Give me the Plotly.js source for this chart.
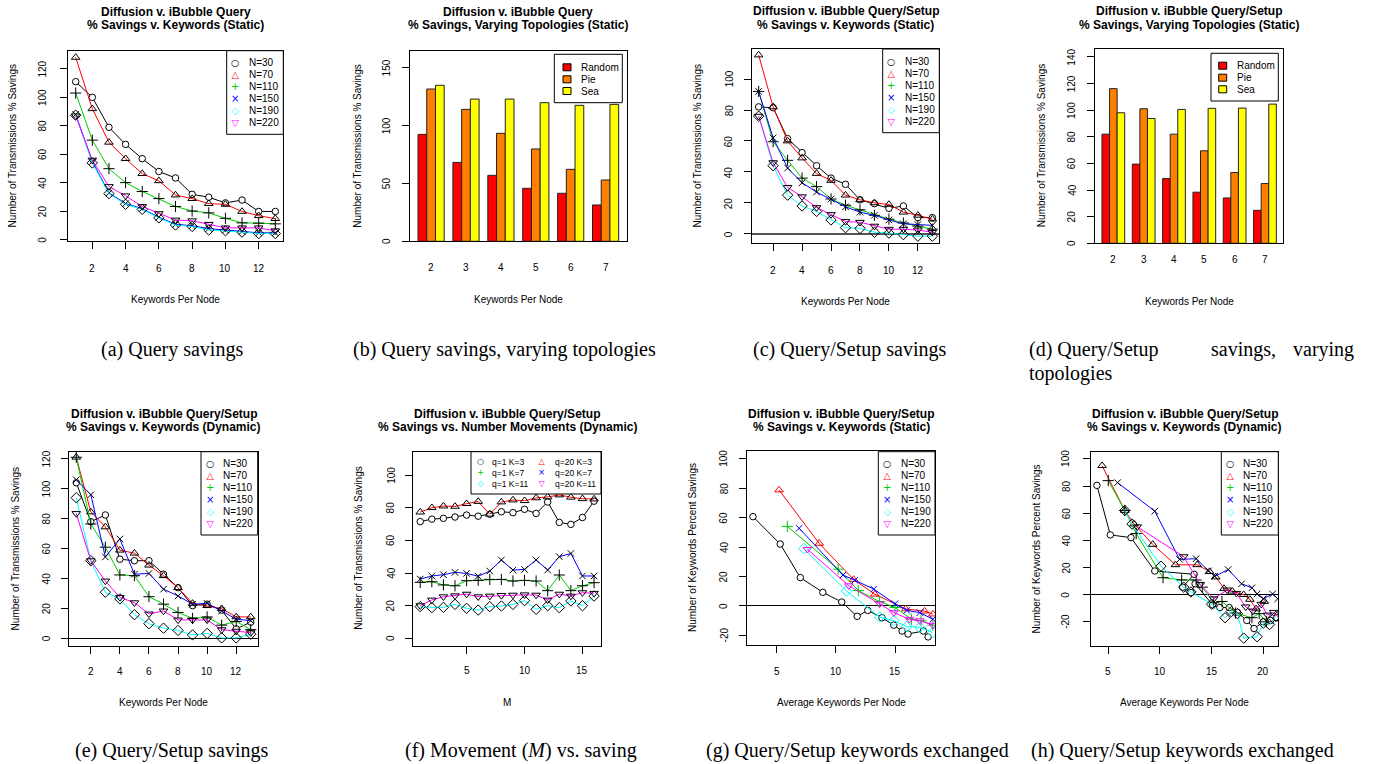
<!DOCTYPE html>
<html><head><meta charset="utf-8">
<script src="https://cdn.plot.ly/plotly-3.0.1.min.js"></script>
<style>html,body{margin:0;padding:0;background:#fff}#chart{width:1375px;height:764px}</style>
</head><body><div id="chart"></div>
<script>
// ================= DATA =================
const seriesNames = ['N=30','N=70','N=110','N=150','N=190','N=220'];
const keywordsPerNode = [1,2,3,4,5,6,7,8,9,10,11,12,13];

// (a) Query savings, static
const a_N30  = [111, 100, 79, 67, 57, 48, 43.5, 32, 30, 26, 28, 20, 20];
const a_N70  = [128, 92, 68.5, 57, 46.5, 41.5, 31.5, 29, 25.5, 25, 20, 17, 15];
const a_N110 = [103, 70, 50, 40.2, 34, 29, 23.5, 20.3, 19, 15.2, 12, 11.8, 11.3];
const a_N150 = [88, 55, 33, 25.5, 22, 16, 11, 10, 8, 7, 6, 5, 5];
const a_N190 = [87.5, 54, 32.5, 25, 21.5, 15.5, 10.5, 9.5, 7, 6.5, 5.5, 4.5, 4.5];
const a_N220 = [87, 56, 37.5, 31, 23.5, 18.5, 14, 13.5, 11, 8.5, 8.5, 8.5, 6.5];

// (b),(d) topologies
const topoKeywords = [2,3,4,5,6,7];
const topoNames = ['Random','Pie','Sea'];
const b_Random = [92.4, 68.2, 57.0, 45.8, 41.5, 31.4];
const b_Pie    = [131.6, 114.0, 93.3, 79.8, 62.2, 53.0];
const b_Sea    = [134.8, 122.9, 122.9, 119.8, 117.5, 118.3];
const d_Random = [82.0, 59.5, 48.7, 38.4, 34.1, 24.8];
const d_Pie    = [116.2, 101.1, 82.0, 69.5, 53.2, 44.9];
const d_Sea    = [98.1, 93.8, 100.6, 101.4, 101.6, 104.6];

// (c) Query/Setup savings, static
const c_N30  = [82, 81.5, 61.5, 52.5, 44, 36, 32, 22, 19.5, 16.5, 18, 10.5, 10.5];
const c_N70  = [115.5, 82, 60, 49, 39, 34.5, 25, 22, 20, 19, 14, 12, 9.5];
const c_N110 = [92, 59.5, 47.5, 36, 30.5, 22.5, 18.5, 15.5, 12, 9.5, 7, 5, 3];
const c_N150 = [92, 62, 42.5, 33, 27, 22.5, 17.5, 14, 12, 9, 6.5, 6, 5.5];
const c_N190 = [76, 44, 25, 18, 14.5, 9, 4, 3.5, 1, 0.5, -0.5, -1.5, -1.5];
const c_N220 = [76, 46, 30, 24, 17, 12.5, 8, 7.5, 5, 3, 3, 2.5, 1];

// (e) Query/Setup savings, dynamic
const e_N30  = [104, 78, 82.5, 53, 52, 52, 43, 34, 22, 23, 19, 6.5, 11];
const e_N70  = [121, 84.5, 74.5, 59, 57, 49, 42, 34, 23.5, 22, 20, 14.5, 14.5];
const e_N110 = [121, 76.5, 61, 42.5, 42, 28, 23, 17.5, 13.5, 14.5, 9, 11.5, 6];
const e_N150 = [106, 96, 54.5, 66.5, 43, 43.5, 33, 28.5, 23, 23.5, 18.5, 13, 12];
const e_N190 = [94, 52, 31, 26.5, 16, 10, 7, 5.5, 2.5, 3.5, 0.5, 0.5, 3];
const e_N220 = [83.5, 52, 38.5, 27.5, 24, 16.5, 18.5, 12.5, 12.5, 12.5, 6, 5, 4];

// (f) movements
const movements = [1,2,3,4,5,6,7,8,9,10,11,12,13,14,15,16];
const fNames = ['q=1 K=3','q=1 K=7','q=1 K=11','q=20 K=3','q=20 K=7','q=20 K=11'];
const f_q1K3   = [71.5, 73, 73.5, 74.3, 75.5, 74.8, 76, 77.5, 77, 79, 76.5, 83.5, 71, 69.8, 74, 84];
const f_q1K7   = [34.3, 34.7, 32.7, 32.2, 35.3, 35.5, 36.1, 36.1, 35.1, 35.5, 35.1, 29.2, 38.8, 29.2, 32.2, 34.1];
const f_q1K11  = [19.4, 18.8, 19, 20.8, 18.4, 17.3, 19.4, 19.8, 20.8, 23.1, 17.8, 20, 18.8, 22.9, 20, 25.9];
const f_q20K3  = [77.3, 80, 81, 80.8, 82.5, 83.8, 76, 83.5, 84.7, 84.3, 86, 86.6, 87.8, 86.4, 85.5, 85.3];
const f_q20K7  = [36.3, 38.2, 39, 40.4, 39.8, 38, 41.2, 48, 41.8, 42.2, 48, 41.8, 50, 52, 38.2, 38.2];
const f_q20K11 = [20, 23.5, 25.5, 26.1, 27.1, 25.5, 25.9, 26.3, 26.5, 26.7, 26.5, 23.5, 27.1, 25.9, 28, 27.6];

// (g) keywords exchanged, static (x = average keywords per node)
const g_N30_x  = [3.0, 5.3, 7.0, 8.9, 10.5, 11.8, 12.7, 13.9, 14.9, 15.6, 16.1, 17.4, 17.8];
const g_N30_y  = [60.7, 42.1, 19.3, 9.3, 2.7, -7, -3, -8, -13, -17, -19, -17, -21];
const g_N70_x  = [5.2, 8.6, 11.5, 13.3, 15.9, 17.5, 18.2];
const g_N70_y  = [78.8, 42.5, 18, 8, -2, -3.5, -5.5];
const g_N110_x = [5.9, 10.2, 11.9, 13.7, 15.0, 16.4, 17.2, 18.2];
const g_N110_y = [54.1, 25, 10.5, 3, -1, -9, -10, -13];
const g_N150_x = [6.9, 10.6, 11.6, 13.2, 15.0, 16.0, 17.1, 18.2];
const g_N150_y = [52.8, 21, 17.5, 11.5, 1.5, -3, -4.5, -9];
const g_N190_x = [7.3, 10.9, 13.7, 14.9, 16.0, 17.1, 18.2];
const g_N190_y = [39, 10.2, -7.5, -10, -14, -14.5, -18];
const g_N220_x = [7.6, 11.1, 13.7, 14.9, 16.2, 17.1, 18.2];
const g_N220_y = [38.5, 13.8, 1.5, -4.5, -9, -10, -13];

// (h) keywords exchanged, dynamic
const h_N30_x  = [3.9, 5.2, 7.2, 9.5, 13.3, 12.2, 13.0, 13.4, 15.1, 15.8, 16.7, 17.5, 18.4, 19.1, 20.0, 20.7, 21.3];
const h_N30_y  = [80.5, 44, 42, 17.4, 15, 5.5, 1.5, 8, -7.5, -9.5, -9.5, -13, -19, -25, -20, -19, -17];
const h_N70_x  = [4.4, 6.6, 7.5, 9.3, 11.5, 13.6, 14.8, 15.4, 16.2, 17.0, 18.1, 18.7, 19.3, 20.1];
const h_N70_y  = [95, 62, 52, 37, 22, 22, 17, 13, 4.5, 2.5, 0, -3.5, -10.5, -5];
const h_N110_x = [5.0, 6.6, 7.7, 10.3, 12.1, 13.5, 14.1, 15.2, 16.0, 17.3, 18.9, 19.6, 20.3];
const h_N110_y = [84, 62, 45, 12.5, 10.8, 10.8, 5.5, -6, -5, -13.5, -17, -14, -20];
const h_N150_x = [5.9, 9.5, 11.9, 13.5, 14.7, 15.3, 16.6, 17.9, 18.9, 19.4, 20.0, 20.9, 21.4];
const h_N150_y = [82.5, 61.5, 26, 26.5, 17.5, 13.5, 18.5, 8, 5, 0.5, -3, 0.5, -3];
const h_N190_x = [6.6, 7.3, 10.1, 12.3, 13.0, 15.0, 16.3, 16.9, 17.5, 18.1, 19.4, 20.0, 20.6, 21.2];
const h_N190_y = [62, 52, 21, 5.5, 2, -7, -17, -12.5, -14, -32, -31, -21, -22, -16];
const h_N220_x = [7.8, 12.3, 13.9, 15.2, 16.5, 17.4, 18.3, 19.0, 19.8, 20.4, 21.0, 21.8];
const h_N220_y = [50, 28, 7.5, -3, 3.5, 1, -9, -12, -7, -15, -13, -20];

// ================= STYLE =================
const W = 1375, H = 764;
const FONT = 'Liberation Sans, Arial, Helvetica, sans-serif';
const SERIF = 'Liberation Serif, Times New Roman, serif';
const SYMF = 'DejaVu Sans, sans-serif';
const lineColors = ['#000000','#FF0000','#00CD00','#0000FF','#00FFFF','#FF00FF'];
const symbols = ['circle','triangle-up-open','cross-thin-open','x-thin-open','diamond-open','triangle-down-open'];
const symSizes = [6.5, 7.5, 8, 6.5, 8, 7.5];
const glyphs = ['○','△','+','×','◇','▽'];
const glyphSizes = [9.5, 9.5, 10, 10, 9.5, 9.5];
const barColors = ['#FF0000','#FF8000','#FFFF00'];

const panels = {
  a:{n:1, box:[67.7,283.3,50.7,240.7], xr:[0.52,13.48], yr:[-0.5,132.7], xt:[2,4,6,8,10,12], yt:[0,20,40,60,80,100,120], zero:false, xoff:27.6, yoff:25, bars:false,
     title:['Diffusion v. iBubble Query','% Savings v. Keywords (Static)'], ty:[11.5,25], xlab:'Keywords Per Node', xly:299, ylab:'Number of Transmissions % Savings', ylx:12.7},
  b:{n:2, box:[410,626.7,50.7,241.3], xr:[1.395,7.605], yr:[0,164.7], xt:topoKeywords, yt:[0,50,100,150], zero:false, xoff:26.4, yoff:23.3, bars:true,
     title:['Diffusion v. iBubble Query','% Savings, Varying Topologies (Static)'], ty:[11.5,25], xlab:'Keywords Per Node', xly:299, ylab:'Number of Transmissions % Savings', ylx:356.7},
  c:{n:3, box:[751.7,939.3,49,243.3], xr:[0.52,13.48], yr:[-6.1,119.4], xt:[2,4,6,8,10,12], yt:[0,20,40,60,80,100], zero:true, zc:'#555', zw:2, xoff:26.7, yoff:22.4, bars:false,
     title:['Diffusion v. iBubble Query/Setup','% Savings v. Keywords (Static)'], ty:[11,25], xlab:'Keywords Per Node', xly:301, ylab:'Number of Transmissions % Savings', ylx:697.3},
  d:{n:4, box:[1095,1283.3,49,243.3], xr:[1.395,7.605], yr:[0,146], xt:topoKeywords, yt:[0,20,40,60,80,100,120,140], zero:false, xoff:16, yoff:23.3, bars:true,
     title:['Diffusion v. iBubble Query/Setup','% Savings, Varying Topologies (Static)'], ty:[10.5,25], xlab:'Keywords Per Node', xly:301, ylab:'Number of Transmissions % Savings', ylx:1041},
  e:{n:5, box:[69.3,257.7,451.7,645.7], xr:[0.52,13.48], yr:[-4.7,124.7], xt:[2,4,6,8,10,12], yt:[0,20,40,60,80,100,120], zero:true, zc:'#000', zw:1, xoff:26, yoff:22.6, bars:false,
     title:['Diffusion v. iBubble Query/Setup','% Savings v. Keywords (Dynamic)'], ty:[414,427.3], xlab:'Keywords Per Node', xly:702.7, ylab:'Number of Transmissions % Savings', ylx:15.7},
  f:{n:6, box:[413.3,601,451.7,645.7], xr:[0.4,16.6], yr:[-4.5,114.3], xt:[5,10,15], yt:[0,20,40,60,80,100], zero:false, xoff:25, yoff:22.6, bars:false,
     title:['Diffusion v. iBubble Query/Setup','% Savings vs. Number Movements (Dynamic)'], ty:[413.5,427.3], xlab:'M', xly:702.7, ylab:'Number of Transmissions % Savings', ylx:359},
  g:{n:7, box:[747.3,935,451,645], xr:[2.52,18.38], yr:[-26.5,105.3], xt:[5,10,15], yt:[-20,0,20,40,60,80,100], zero:true, zc:'#000', zw:1, xoff:26.7, yoff:23.3, bars:false,
     title:['Diffusion v. iBubble Query/Setup','% Savings v. Keywords (Static)'], ty:[413.5,427.3], xlab:'Average Keywords Per Node', xly:702.7, ylab:'Number of Keywords Percent Savings', ylx:692},
  h:{n:8, box:[1090.7,1278.3,451.7,645.7], xr:[3.3,21.45], yr:[-37.6,105.3], xt:[5,10,15,20], yt:[-20,0,20,40,60,80,100], zero:true, zc:'#000', zw:1, xoff:26, yoff:24.7, bars:false,
     title:['Diffusion v. iBubble Query/Setup','% Savings v. Keywords (Dynamic)'], ty:[413.5,427.3], xlab:'Average Keywords Per Node', xly:702.7, ylab:'Number of Keywords Percent Savings', ylx:1036.7}
};

// ================= BUILD =================
const traces = [];
const layout = {
  width: W, height: H, margin:{l:0,r:0,t:0,b:0}, paper_bgcolor:'#fff', plot_bgcolor:'rgba(0,0,0,0)',
  showlegend:false, barmode:'group', bargap:0.25, bargroupgap:0,
  annotations:[], shapes:[], font:{family:FONT, color:'#000', size:10}
};
const ax = n => n === 1 ? '' : String(n);

function ann(px, py, text, o) {
  return Object.assign({xref:'paper', yref:'paper', x:px/W, y:1-py/H, text:text, showarrow:false,
    xanchor:'center', yanchor:'middle', font:{family:FONT, size:10, color:'#000'}}, o || {});
}
const fmt = v => v < 0 ? '-' + Math.abs(v) : String(v);

Object.values(panels).forEach(p => {
  const [L,R,T,B] = p.box, s = ax(p.n);
  const common = {showline:true, mirror:true, linecolor:'#000', linewidth:1, showgrid:false,
    ticks:'outside', ticklen:7, tickwidth:1, tickcolor:'#000', fixedrange:true, showticklabels:false};
  layout['xaxis'+s] = Object.assign({}, common, {domain:[L/W, R/W], range:p.xr, anchor:'y'+s,
    tickmode:'array', tickvals:p.xt, zeroline:false, ticks: p.bars ? '' : 'outside'});
  layout['yaxis'+s] = Object.assign({}, common, {domain:[1-B/H, 1-T/H], range:p.yr, anchor:'x'+s,
    tickmode:'array', tickvals:p.yt,
    zeroline:!!p.zero, zerolinecolor:p.zc || '#000', zerolinewidth:p.zw || 1});
  // tick labels placed at the tick values, offset from the axis frame like R's mgp
  p.xt.forEach(v => layout.annotations.push({xref:'x'+s, yref:'y'+s+' domain', x:v, y:0, yshift:-p.xoff,
    text:fmt(v), showarrow:false, xanchor:'center', yanchor:'middle', font:{family:FONT, size:10, color:'#000'}}));
  p.yt.forEach(v => layout.annotations.push({xref:'x'+s+' domain', yref:'y'+s, x:0, y:v, xshift:-p.yoff,
    text:fmt(v), textangle:-90, showarrow:false, xanchor:'center', yanchor:'middle', font:{family:FONT, size:10, color:'#000'}}));
  const cx = (L+R)/2, cy = (T+B)/2;
  layout.annotations.push(ann(cx, p.ty[0], '<b>'+p.title[0]+'</b>', {font:{family:FONT, size:12, color:'#000'}}));
  layout.annotations.push(ann(cx, p.ty[1], '<b>'+p.title[1]+'</b>', {font:{family:FONT, size:12, color:'#000'}}));
  layout.annotations.push(ann(cx, p.xly, p.xlab));
  layout.annotations.push(ann(p.ylx, cy, p.ylab, {textangle:-90}));
});

function lineSet(p, xs, ys, colored) {
  const s = ax(p.n);
  ys.forEach((y, i) => {
    const col = lineColors[i];
    const mcol = colored ? col : '#000';
    traces.push({type:'scatter', mode:'lines+markers', name:seriesNames[i], x:Array.isArray(xs[0]) ? xs[i] : xs, y:y,
      xaxis:'x'+s, yaxis:'y'+s, showlegend:false, cliponaxis:true,
      line:{color:col, width:1},
      marker:{symbol:symbols[i], size:symSizes[i], color: i === 0 ? '#fff' : mcol, line:{color:mcol, width:1}}});
  });
}
lineSet(panels.a, keywordsPerNode, [a_N30,a_N70,a_N110,a_N150,a_N190,a_N220], false);
lineSet(panels.c, keywordsPerNode, [c_N30,c_N70,c_N110,c_N150,c_N190,c_N220], false);
lineSet(panels.e, keywordsPerNode, [e_N30,e_N70,e_N110,e_N150,e_N190,e_N220], false);
lineSet(panels.g, [g_N30_x,g_N70_x,g_N110_x,g_N150_x,g_N190_x,g_N220_x], [g_N30_y,g_N70_y,g_N110_y,g_N150_y,g_N190_y,g_N220_y], true);
lineSet(panels.h, [h_N30_x,h_N70_x,h_N110_x,h_N150_x,h_N190_x,h_N220_x], [h_N30_y,h_N70_y,h_N110_y,h_N150_y,h_N190_y,h_N220_y], false);

// (f) movement series: style index per series
const fSeries = [f_q1K3, f_q1K7, f_q1K11, f_q20K3, f_q20K7, f_q20K11];
const fStyle = [0, 2, 4, 1, 3, 5];
fSeries.forEach((y, i) => {
  const k = fStyle[i];
  traces.push({type:'scatter', mode:'lines+markers', name:fNames[i], x:movements, y:y, xaxis:'x6', yaxis:'y6',
    showlegend:false, line:{color:lineColors[k], width:1},
    marker:{symbol:symbols[k], size:symSizes[k], color: k === 0 ? '#fff' : '#000', line:{color:'#000', width:1}}});
});

// bars
function barSet(p, sets) {
  const s = ax(p.n);
  sets.forEach((v, i) => traces.push({type:'bar', name:topoNames[i], x:topoKeywords, y:v, xaxis:'x'+s, yaxis:'y'+s,
    showlegend:false, marker:{color:barColors[i], line:{color:'#222', width:1}}}));
}
barSet(panels.b, [b_Random, b_Pie, b_Sea]);
barSet(panels.d, [d_Random, d_Pie, d_Sea]);

// ================= LEGENDS (drawn as layout decorations) =================
function frame(L, R, T, B) {
  layout.shapes.push({type:'rect', xref:'paper', yref:'paper', x0:L/W, x1:R/W, y0:1-B/H, y1:1-T/H,
    line:{color:'#000', width:1}, fillcolor:'#fff', layer:'above'});
}
// one multi-line block for symbols and one for names; base font size sets the row pitch (1.3 x size)
function legendBlock(symX, txtX, midY, pitch, names, styleIdx, txtSize, scale) {
  const base = pitch / 1.3;
  const sym = styleIdx.map(k => '<span style="color:' + lineColors[k] + ';font-size:' + (glyphSizes[k]*scale) + 'px">' + glyphs[k] + '</span>').join('<br>');
  const txt = names.map(t => '<span style="font-size:' + txtSize + 'px">' + t + '</span>').join('<br>');
  layout.annotations.push(ann(symX, midY, sym, {font:{family:SYMF, size:base, color:'#000'}}));
  layout.annotations.push(ann(txtX, midY, txt, {xanchor:'left', align:'left', font:{family:FONT, size:base, color:'#000'}}));
}
function symLegend(L, R, T, B, symX, txtX, y0, y1) {
  frame(L, R, T, B);
  legendBlock(symX, txtX, (y0+y1)/2, (y1-y0)/5, seriesNames, [0,1,2,3,4,5], 10, 1);
}
symLegend(226.7, 283.3, 50.7, 134.3, 235, 246.5, 62.3, 122.7);
symLegend(882.7, 939.3, 49, 132.7, 891.7, 903, 61, 121.3);
symLegend(201, 257.7, 451.7, 535, 210, 221, 463, 523.3);
symLegend(878.3, 935, 451.7, 535, 887.3, 899, 463.3, 523.7);
symLegend(1221.3, 1278.3, 451.7, 535, 1230, 1240.5, 463.3, 523.7);
// (f) two-column legend
frame(471, 601, 451.7, 494);
legendBlock(480, 490, 472.9, 10.85, fNames.slice(0,3), fStyle.slice(0,3), 8.5, 0.85);
legendBlock(541.7, 552.5, 472.9, 10.85, fNames.slice(3), fStyle.slice(3), 8.5, 0.85);
// bar legends
function barLegend(L, R, T, B, swX, txtX, rows) {
  frame(L, R, T, B);
  rows.forEach((ry, i) => {
    layout.shapes.push({type:'rect', xref:'paper', yref:'paper', x0:(swX-4)/W, x1:(swX+4)/W, y0:1-(ry+3.5)/H, y1:1-(ry-3.5)/H,
      line:{color:'#000', width:1}, fillcolor:barColors[i], layer:'above'});
  });
  const pitch = (rows[2]-rows[0])/2;
  layout.annotations.push(ann(txtX, rows[1], topoNames.map(t => '<span style="font-size:10px">' + t + '</span>').join('<br>'),
    {xanchor:'left', align:'left', font:{family:FONT, size:pitch/1.3, color:'#000'}}));
}
barLegend(554.3, 622.3, 54.3, 102.7, 567, 578.5, [67.3,79.3,91]);
barLegend(1211, 1278.3, 53.3, 101, 1222.7, 1234.5, [65.7,77.7,89.3]);

// ================= CAPTIONS =================
const cap = (x, y, t, o) => layout.annotations.push(ann(x, y, t, Object.assign({font:{family:SERIF, size:20, color:'#000'}}, o || {})));
cap(172, 350, '(a) Query savings');
cap(504, 350, '(b) Query savings, varying topologies');
cap(850, 350, '(c) Query/Setup savings');
cap(1027, 350, '(d) Query/Setup', {xanchor:'left'});
cap(1243, 350, 'savings,');
cap(1356, 350, 'varying', {xanchor:'right'});
cap(1027, 373, 'topologies', {xanchor:'left'});
cap(172, 750, '(e) Query/Setup savings');
cap(521, 750, '(f) Movement (<i>M</i>) vs. saving');
cap(857, 750, '(g) Query/Setup keywords exchanged');
cap(1182, 750, '(h) Query/Setup keywords exchanged');

Plotly.newPlot('chart', traces, layout, {staticPlot:true, displayModeBar:false});
</script></body></html>
